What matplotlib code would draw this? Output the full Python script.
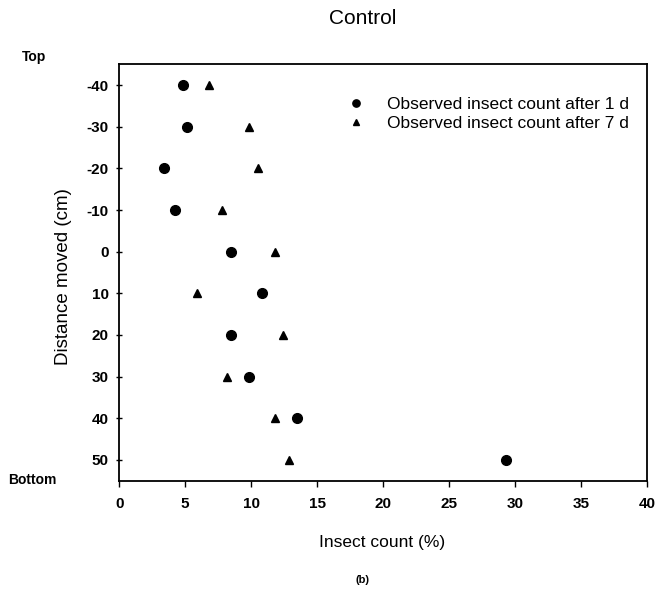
import matplotlib
matplotlib.use("Agg")
import matplotlib.pyplot as plt

plt.rcParams['font.family'] = ['Liberation Sans', 'DejaVu Sans']

distance = [-40, -30, -20, -10, 0, 10, 20, 30, 40, 50]
count_1d = [4.8, 5.1, 3.4, 4.2, 8.5, 10.8, 8.5, 9.8, 13.5, 29.3]
count_7d = [6.8, 9.8, 10.5, 7.8, 11.8, 5.9, 12.4, 8.2, 11.8, 12.9]
xticks = [0, 5, 10, 15, 20, 25, 30, 35, 40]
yticks = [-40, -30, -20, -10, 0, 10, 20, 30, 40, 50]

W, H = 655, 595
fig = plt.figure(figsize=(6.55, 5.95), dpi=100)
ax = fig.add_axes([0.182, 0.192, 0.806, 0.700])

ax.plot(count_1d, distance, linestyle='none', marker='o', color='black',
        markersize=7, label='Observed insect count after 1 d')
ax.plot(count_7d, distance, linestyle='none', marker='^', color='black',
        markersize=6, label='Observed insect count after 7 d')

ax.set_xlim(0, 40)
ax.set_ylim(55, -45)
ax.set_xticks(xticks)
ax.set_yticks(yticks)
ax.set_xticklabels([str(v) for v in xticks], fontsize=11, fontweight='bold')
ax.set_yticklabels([str(v) for v in yticks], fontsize=11, fontweight='bold')
ax.tick_params(axis='y', direction='inout', length=5, width=1, pad=5)
ax.tick_params(axis='x', direction='out', length=4, width=1, pad=8)
for s in ax.spines.values():
    s.set_linewidth(1.3)
    s.set_color('black')

ax.legend(loc='upper right', frameon=False, fontsize=12.5,
          bbox_to_anchor=(0.995, 0.96), handletextpad=1.3,
          handlelength=1.0, labelspacing=0.25, markerscale=0.75)

fig.text(363/W, 1 - 18/H, 'Control', fontsize=15, ha='center', va='center')
fig.text(382/W, 1 - 542/H, 'Insect count (%)', fontsize=12.5, ha='center', va='center')
fig.text(64/W, 1 - 277/H, 'Distance moved (cm)', fontsize=13.5, rotation=90,
         ha='center', va='center')
fig.text(22/W, 1 - 57/H, 'Top', fontsize=10, fontweight='bold', ha='left', va='center')
fig.text(8/W, 1 - 480/H, 'Bottom', fontsize=10, fontweight='bold', ha='left', va='center')
fig.text(362/W, 1 - 580/H, '(b)', fontsize=8, fontweight='bold', ha='center', va='center')

fig.savefig('out.png', dpi=100)
